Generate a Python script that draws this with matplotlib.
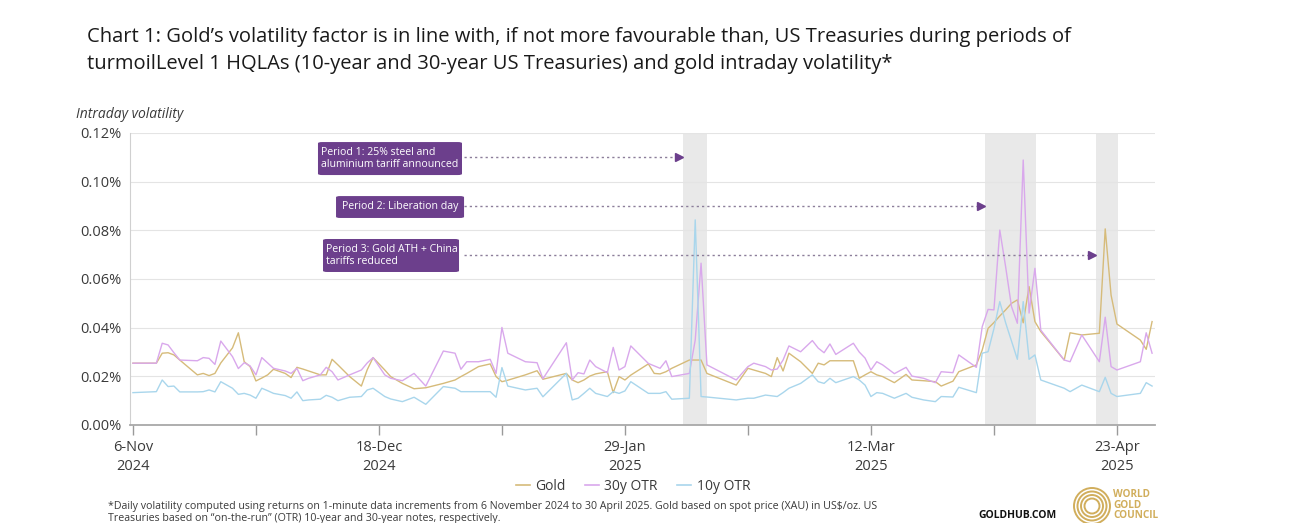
import matplotlib
matplotlib.use("Agg")
import matplotlib.pyplot as plt
import pandas as pd
from matplotlib.patches import FancyBboxPatch, Ellipse
from matplotlib.lines import Line2D

plt.rcParams['font.family'] = ['Open Sans', 'DejaVu Sans']

# ---------------- data (intraday volatility, %) ----------------
dates = ["2024-11-06", "2024-11-10", "2024-11-11", "2024-11-12", "2024-11-13", "2024-11-14",
         "2024-11-17", "2024-11-18", "2024-11-19", "2024-11-20", "2024-11-21", "2024-11-23",
         "2024-11-24", "2024-11-25", "2024-11-26", "2024-11-27", "2024-11-28", "2024-11-29",
         "2024-11-30", "2024-12-02", "2024-12-03", "2024-12-04", "2024-12-05", "2024-12-06",
         "2024-12-08", "2024-12-09", "2024-12-10", "2024-12-11", "2024-12-13", "2024-12-15",
         "2024-12-16", "2024-12-17", "2024-12-19", "2024-12-20", "2024-12-22", "2024-12-24",
         "2024-12-26", "2024-12-29", "2024-12-31", "2025-01-01", "2025-01-02", "2025-01-04",
         "2025-01-06", "2025-01-07", "2025-01-08", "2025-01-09", "2025-01-12", "2025-01-14",
         "2025-01-15", "2025-01-19", "2025-01-20", "2025-01-21", "2025-01-22", "2025-01-23",
         "2025-01-24", "2025-01-26", "2025-01-27", "2025-01-28", "2025-01-29", "2025-01-30",
         "2025-02-02", "2025-02-03", "2025-02-04", "2025-02-05", "2025-02-06", "2025-02-09",
         "2025-02-10", "2025-02-11", "2025-02-12", "2025-02-17", "2025-02-19", "2025-02-20",
         "2025-02-22", "2025-02-23", "2025-02-24", "2025-02-25", "2025-02-26", "2025-02-28",
         "2025-03-02", "2025-03-03", "2025-03-04", "2025-03-05", "2025-03-06", "2025-03-09",
         "2025-03-10", "2025-03-11", "2025-03-12", "2025-03-13", "2025-03-14", "2025-03-16",
         "2025-03-18", "2025-03-19", "2025-03-21", "2025-03-23", "2025-03-24", "2025-03-26",
         "2025-03-27", "2025-03-30", "2025-03-31", "2025-04-01", "2025-04-02", "2025-04-03",
         "2025-04-04", "2025-04-05", "2025-04-06", "2025-04-07", "2025-04-08", "2025-04-09",
         "2025-04-10", "2025-04-14", "2025-04-15", "2025-04-17", "2025-04-20", "2025-04-21",
         "2025-04-22", "2025-04-23", "2025-04-27", "2025-04-28", "2025-04-29"]

gold = [.0254, .0254, .0295, .0297, .0288, .0267, .0206, .0212, .0203, .0212, .0255, .0317,
        .0379, .0260, .0240, .0181, .0193, .0206, .0229, .0212, .0195, .0237, .0230, .0222,
        .0206, .0206, .0270, .0247, .0199, .0160, .0227, .0277, .0226, .0199, .0171, .0149,
        .0153, .0171, .0185, .0199, .0212, .0240, .0251, .0199, .0178, .0184, .0206, .0223,
        .0188, .0212, .0185, .0174, .0185, .0201, .0210, .0219, .0133, .0199, .0185, .0205,
        .0251, .0212, .0210, .0219, .0233, .0267, .0267, .0267, .0212, .0164, .0233, .0226,
        .0212, .0199, .0277, .0222, .0295, .0260, .0212, .0254, .0247, .0264, .0264, .0264,
        .0192, .0206, .0219, .0206, .0199, .0174, .0208, .0185, .0182, .0178, .0160, .0180,
        .0219, .0247, .0308, .0397, .0421, .0448, .0473, .0500, .0514, .0420, .0569, .0425,
        .0384, .0267, .0379, .0370, .0377, .0806, .0534, .0415, .0349, .0311, .0425]

otr30 = [.0254, .0254, .0336, .0329, .0297, .0267, .0264, .0277, .0274, .0249, .0345, .0281,
         .0232, .0256, .0243, .0206, .0277, .0255, .0233, .0222, .0212, .0233, .0182, .0192,
         .0206, .0237, .0219, .0185, .0206, .0226, .0255, .0277, .0206, .0192, .0182, .0212,
         .0160, .0304, .0295, .0229, .0260, .0260, .0270, .0212, .0401, .0295, .0260, .0256,
         .0190, .0338, .0185, .0215, .0210, .0267, .0240, .0215, .0319, .0226, .0240, .0325,
         .0253, .0243, .0233, .0264, .0199, .0212, .0349, .0665, .0247, .0185, .0240, .0254,
         .0240, .0226, .0230, .0267, .0325, .0301, .0347, .0316, .0297, .0333, .0290, .0336,
         .0300, .0275, .0226, .0260, .0247, .0211, .0237, .0201, .0192, .0174, .0219, .0215,
         .0288, .0237, .0404, .0475, .0473, .0801, .0650, .0487, .0418, .1089, .0460, .0644,
         .0390, .0267, .0260, .0370, .0260, .0443, .0240, .0226, .0260, .0379, .0295]

otr10 = [.0133, .0137, .0185, .0158, .0160, .0136, .0136, .0137, .0144, .0136, .0178, .0151,
         .0126, .0130, .0123, .0110, .0151, .0141, .0130, .0121, .0110, .0136, .0100, .0103,
         .0106, .0122, .0114, .0100, .0114, .0117, .0144, .0151, .0117, .0107, .0096, .0114,
         .0085, .0158, .0151, .0137, .0137, .0137, .0137, .0114, .0236, .0160, .0144, .0151,
         .0116, .0212, .0103, .0110, .0130, .0151, .0130, .0117, .0137, .0130, .0140, .0178,
         .0130, .0130, .0130, .0137, .0106, .0110, .0843, .0117, .0115, .0103, .0110, .0110,
         .0123, .0120, .0117, .0133, .0151, .0171, .0206, .0178, .0171, .0192, .0174, .0199,
         .0185, .0164, .0117, .0133, .0130, .0110, .0130, .0114, .0103, .0096, .0117, .0115,
         .0155, .0133, .0295, .0301, .0396, .0507, .0420, .0345, .0270, .0507, .0270, .0288,
         .0185, .0151, .0137, .0164, .0137, .0196, .0130, .0117, .0130, .0174, .0160]

series_names = ["Gold", "30y OTR", "10y OTR"]
series_colors = ["#D6BB7A", "#D9A8EC", "#A9D6EC"]

period_labels = ["Period 1: 25% steel and\naluminium tariff announced",
                 "Period 2: Liberation day",
                 "Period 3: Gold ATH + China\ntariffs reduced"]
period_starts = ["2025-02-08 00:00", "2025-03-31 12:00", "2025-04-19 10:00"]
period_ends = ["2025-02-12 00:00", "2025-04-09 05:00", "2025-04-23 04:00"]
arrow_levels = [0.11, 0.09, 0.07]

# ---------------- figure ----------------
W, H = 1289, 523
fig = plt.figure(figsize=(W / 100, H / 100), dpi=100)
ax = fig.add_axes([130 / W, 1 - 425 / H, 1025 / W, 292 / H])

x = pd.to_datetime(dates)
TEXT = "#3a3a3a"
PURPLE = "#6C3F8C"

# shaded periods
for s, e in zip(period_starts, period_ends):
    ax.axvspan(pd.Timestamp(s), pd.Timestamp(e), color="#E9E9E9", zorder=0, lw=0)

for vals, name, col in zip([gold, otr30, otr10], series_names, series_colors):
    ax.plot(x, vals, color=col, lw=1.0, label=name, zorder=3)

ax.set_ylim(0, 0.12)
ax.set_yticks([0, 0.02, 0.04, 0.06, 0.08, 0.10, 0.12])
ax.set_yticklabels([f"{v:.2f}%" for v in ax.get_yticks()], fontsize=10.5, color=TEXT)
ax.grid(axis="y", color="#E4E4E4", lw=0.8, zorder=1)
ax.set_axisbelow(True)

start = pd.Timestamp("2024-11-06")
ax.set_xlim(start - pd.Timedelta(hours=12), start + pd.Timedelta(days=174.5))
ticks = pd.date_range(start, periods=9, freq="21D")
ax.set_xticks(ticks)
labels = []
for i, t in enumerate(ticks):
    labels.append(f"{t.day}-{t.strftime('%b')}\n{t.year}" if i % 2 == 0 else "")
ax.set_xticklabels(labels, fontsize=10.5, color=TEXT, linespacing=1.3)
ax.tick_params(axis="x", length=7, width=1, color="#9A9A9A", pad=4)
ax.tick_params(axis="y", length=0, pad=6)

for side in ["top", "right"]:
    ax.spines[side].set_visible(False)
ax.spines["left"].set_color("#D0D0D0")
ax.spines["left"].set_linewidth(0.8)
ax.spines["bottom"].set_color("#A8A8A8")
ax.spines["bottom"].set_linewidth(1.3)

# annotation boxes (axes fraction)
boxes = [(0.1834, 0.856, 0.1405, 0.113), (0.2010, 0.709, 0.1249, 0.075), (0.1883, 0.524, 0.1327, 0.113)]
text_pos = [(0.1866, 0.9125), (0.2068, 0.7466), (0.1912, 0.5805)]
for (bx, by, bw, bh), (tx, ty), lab in zip(boxes, text_pos, period_labels):
    ax.add_patch(FancyBboxPatch((bx, by), bw, bh, boxstyle="round,pad=0,rounding_size=0.004",
                                transform=ax.transAxes, facecolor=PURPLE, edgecolor="none",
                                zorder=6, clip_on=False))
    ax.text(tx, ty, lab, transform=ax.transAxes, ha="left", va="center", color="white",
            fontsize=7.6, zorder=7, linespacing=1.15)

# dotted arrows from boxes to periods
box_right = start + pd.Timedelta(days=56.6)
for lvl, s in zip(arrow_levels, period_starts):
    end = pd.Timestamp(s) - pd.Timedelta(hours=18)
    ax.plot([box_right, end], [lvl, lvl], color="#8C7E9A", lw=1.0, ls=(0, (1.6, 2.2)), zorder=5)
    ax.plot([end], [lvl], marker=">", color=PURPLE, ms=6, zorder=6)

# y-axis title
fig.text(76 / W, 1 - 115 / H, "Intraday volatility", fontsize=10, style="italic", color=TEXT,
         ha="left", va="center")

# title
fig.text(87 / W, 1 - 37 / H,
         "Chart 1: Gold\u2019s volatility factor is in line with, if not more favourable than, US Treasuries during periods of",
         fontsize=14.5, color="#1a1a1a", ha="left", va="center")
fig.text(87 / W, 1 - 64 / H,
         "turmoilLevel 1 HQLAs (10-year and 30-year US Treasuries) and gold intraday volatility*",
         fontsize=14.5, color="#1a1a1a", ha="left", va="center")

# legend
handles = [Line2D([0], [0], color=c, lw=1.2) for c in series_colors]
fig.legend(handles, series_names, loc="center", bbox_to_anchor=(633 / W, 1 - 486 / H), ncol=3,
           frameon=False, fontsize=10, handlelength=1.0, handletextpad=0.4, columnspacing=1.4,
           labelcolor=TEXT)

# footnote
fig.text(108 / W, 1 - 507 / H,
         "*Daily volatility computed using returns on 1-minute data increments from 6 November 2024 to 30 April 2025. Gold based on spot price (XAU) in US$/oz. US",
         fontsize=7.7, color=TEXT, ha="left", va="center")
fig.text(108 / W, 1 - 519 / H,
         "Treasuries based on \u201con-the-run\u201d (OTR) 10-year and 30-year notes, respectively.",
         fontsize=7.7, color=TEXT, ha="left", va="center")

# branding
fig.text(978 / W, 1 - 516 / H, "GOLDHUB.COM", fontsize=7.5, fontweight="bold", color="#111111",
         ha="left", va="center")
LOGO = "#D1AE5C"
cx, cy = 1092, 506
for r in [18, 14.5, 11, 7.5]:
    fig.patches.append(Ellipse((cx / W, 1 - cy / H), 2 * r / W, 2 * r / H, transform=fig.transFigure,
                               facecolor="none", edgecolor=LOGO, lw=1.4))
fig.text(1113 / W, 1 - 505 / H, "WORLD\nGOLD\nCOUNCIL", fontsize=7.2, fontweight="bold",
         color=LOGO, ha="left", va="center", linespacing=0.95)

fig.savefig("out.png", dpi=100)
